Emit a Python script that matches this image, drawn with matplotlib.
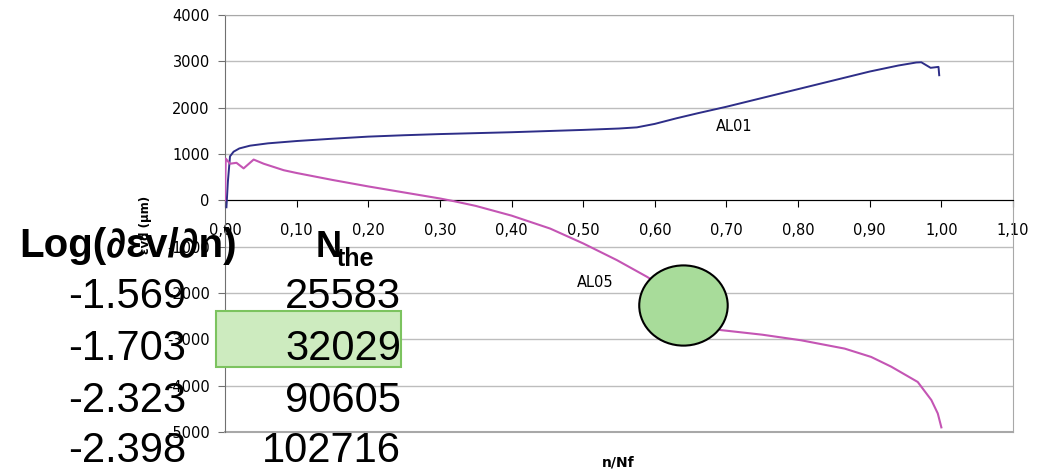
import matplotlib
matplotlib.use("Agg")
import matplotlib.pyplot as plt
from matplotlib.patches import Ellipse, Rectangle

# AL01 curve (n/Nf, displacement in um)
al01_x = [0.002, 0.004, 0.007, 0.012, 0.02, 0.035, 0.06, 0.10, 0.15, 0.20, 0.25, 0.30,
          0.35, 0.40, 0.45, 0.50, 0.55, 0.575, 0.60, 0.63, 0.66, 0.70, 0.75, 0.80,
          0.85, 0.90, 0.94, 0.965, 0.972, 0.985, 0.996, 0.997]
al01_y = [-150, 400, 950, 1050, 1120, 1180, 1230, 1280, 1330, 1375, 1405, 1430,
          1450, 1470, 1495, 1520, 1550, 1575, 1650, 1770, 1880, 2020, 2210, 2400,
          2590, 2780, 2910, 2975, 2980, 2860, 2880, 2700]

# AL05 curve
al05_x = [0.0, 0.001, 0.007, 0.016, 0.026, 0.04, 0.054, 0.082, 0.10, 0.15, 0.20, 0.25,
          0.30, 0.32, 0.35, 0.40, 0.454, 0.50, 0.547, 0.589, 0.62, 0.65, 0.67, 0.692,
          0.75, 0.804, 0.865, 0.902, 0.93, 0.967, 0.986, 0.995, 1.0]
al05_y = [0, 900, 790, 810, 690, 880, 790, 650, 590, 440, 300, 170,
          40, -20, -120, -330, -610, -930, -1290, -1650, -1950, -2250, -2600, -2800,
          -2900, -3020, -3200, -3380, -3590, -3920, -4310, -4600, -4900]

x_ticks = [0.0, 0.1, 0.2, 0.3, 0.4, 0.5, 0.6, 0.7, 0.8, 0.9, 1.0, 1.1]
y_ticks = [-5000, -4000, -3000, -2000, -1000, 0, 1000, 2000, 3000, 4000]

# table overlaid on the left
log_rates = ["-1.569", "-1.703", "-2.323", "-2.398"]
n_the = ["25583", "32029", "90605", "102716"]

W, H = 1043, 472
fig = plt.figure(figsize=(W / 100, H / 100), dpi=100)
ax = fig.add_axes([225 / W, 1 - 432 / H, (1013 - 225) / W, (432 - 15) / H])

ax.plot(al01_x, al01_y, color="#2E2E88", lw=1.4, zorder=3)
ax.plot(al05_x, al05_y, color="#C455B4", lw=1.5, zorder=3)

ax.set_xlim(0, 1.1)
ax.set_ylim(-5000, 4000)
ax.set_xticks(x_ticks)
ax.set_xticklabels([f"{v:.2f}".replace(".", ",") for v in x_ticks])
ax.set_yticks(y_ticks)
ax.set_yticklabels([str(v) for v in y_ticks])
ax.grid(axis="y", color="#BDBDBD", lw=1)
ax.set_axisbelow(True)
# plot-area border at the bottom
ax.axhline(-5000, color="#A8A8A8", lw=1.5, clip_on=False, zorder=1)

ax.spines["bottom"].set_position(("data", 0))
ax.spines["bottom"].set_color("black")
for s in ["top", "right"]:
    ax.spines[s].set_color("#A8A8A8")
ax.spines["left"].set_color("#707070")
ax.tick_params(axis="x", direction="out", length=5, pad=11, labelsize=10.5, color="black")
ax.tick_params(axis="y", direction="out", length=5, pad=6, labelsize=10.5, color="#707070")

ax.text(0.711, 1595, "AL01", fontsize=10.5, ha="center", va="center")
ax.text(0.517, -1770, "AL05", fontsize=10.5, ha="center", va="center")

circ = Ellipse((0.64, -2270), 0.1235, 1731, facecolor="#A8DC9A", edgecolor="black",
               lw=1.5, zorder=5)
ax.add_patch(circ)

fig.text(618 / W, 1 - 463 / H, "n/Nf", fontsize=10, fontweight="bold", ha="center", va="center")
fig.text(146 / W, 1 - 225 / H, "εvd (μm)", fontsize=8.5, fontweight="bold", rotation=90,
         ha="center", va="center")

# green highlight box behind the second row
rect = Rectangle((216 / W, 1 - 367 / H), (401 - 216) / W, (367 - 311) / H,
                 transform=fig.transFigure, facecolor="#CDEBBF", edgecolor="#7CC35F",
                 lw=1.5, zorder=4)
fig.add_artist(rect)

big = ["Liberation Sans", "DejaVu Sans"]
fig.text(128 / W, 1 - 257 / H, "Log(∂εv/∂n)", fontsize=29, fontweight="bold",
         family=big, ha="center", va="baseline", zorder=6)
fig.text(316 / W, 1 - 257 / H, "N", fontsize=26, fontweight="bold",
         family=big, ha="left", va="baseline", zorder=6)
fig.text(337 / W, 1 - 266 / H, "the", fontsize=18, fontweight="bold",
         family=big, ha="left", va="baseline", zorder=6)

baselines = [308, 360, 412, 462]
for r, n, b in zip(log_rates, n_the, baselines):
    fig.text(186 / W, 1 - b / H, r, fontsize=30, family=big, ha="right", va="baseline", zorder=6)
    fig.text(401 / W, 1 - b / H, n, fontsize=30, family=big, ha="right", va="baseline", zorder=6)

fig.savefig("out.png", dpi=100)
